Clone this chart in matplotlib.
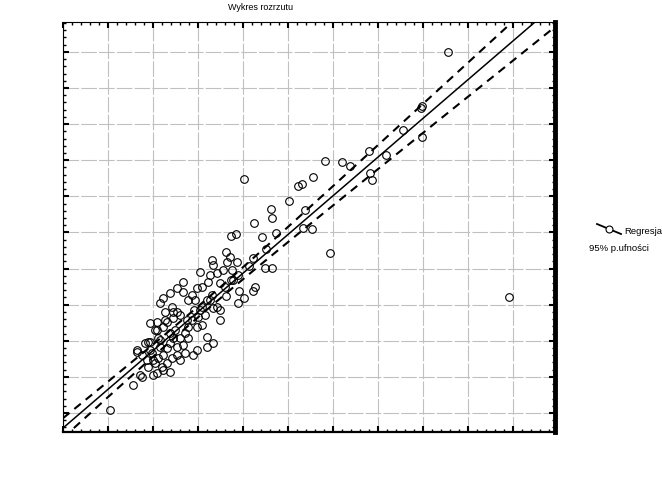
import numpy as np
import matplotlib
matplotlib.use('Agg')
import matplotlib.pyplot as plt
from matplotlib.lines import Line2D
from matplotlib.ticker import MultipleLocator, AutoMinorLocator

plt.rcParams['font.family'] = ['Liberation Sans', 'DejaVu Sans']

# scatter points
x_pts = [8.56, 9.91, 4.02, 7.98, 7.96, 7.98, 7.56, 6.82, 6.87, 7.18,
         6.80, 6.38, 6.20, 5.82, 5.56, 5.31, 5.22, 5.38, 5.02, 5.53,
         5.33, 5.93, 4.62, 4.64, 4.73, 4.42, 4.24, 4.51, 4.64, 4.49,
         4.22, 4.27, 4.22, 3.87, 3.89, 3.91, 3.73, 3.84, 3.62, 3.31,
         3.33, 3.71, 3.64, 3.56, 3.76, 3.42, 3.27, 3.49, 3.22, 3.09,
         2.98, 2.67, 2.87, 2.93, 2.78, 2.53, 2.60, 2.44, 2.31, 2.22,
         2.09, 2.11, 1.93, 1.82, 1.64, 1.76, 1.98, 1.87, 2.04, 1.89,
         1.71, 2.00, 1.56, 3.89, 3.49, 3.33, 3.20, 3.20, 2.98, 2.89,
         2.71, 2.53, 2.31, 2.20, 2.38, 2.22, 2.09, 3.31, 3.20, 3.09,
         3.33, 3.42, 3.49, 3.00, 2.87, 2.78, 2.98, 3.09, 2.71, 2.78,
         2.60, 2.44, 2.38, 2.31, 2.53, 2.67, 2.16, 2.22, 2.42, 2.60,
         2.11, 2.00, 2.67, 2.53, 2.38, 2.22, 2.16, 2.42, 2.27, 2.44,
         2.09, 1.93, 2.04, 2.27, 2.38, 1.64, 1.89, 1.76, 1.04, 4.02,
         3.62, 3.73, 4.13, 2.91, 3.16, 3.04, 3.04, 3.27, 3.60, 3.78,
         2.76, 2.49, 2.16, 1.93]
y_pts = [11.00, 4.21, 7.48, 9.50, 9.45, 8.65, 8.84, 7.65, 7.45, 8.15,
         8.26, 7.84, 7.95, 7.98, 7.54, 7.34, 7.29, 6.62, 6.87, 6.10,
         6.12, 5.43, 6.65, 6.40, 5.99, 5.88, 6.26, 5.54, 5.02, 5.02,
         5.29, 4.49, 4.38, 5.18, 4.82, 4.38, 5.90, 5.96, 5.46, 5.24,
         5.10, 5.32, 5.18, 4.96, 4.96, 4.88, 4.82, 4.60, 4.63, 4.49,
         4.46, 4.35, 4.27, 4.13, 4.13, 3.80, 3.71, 3.63, 3.52, 3.38,
         3.30, 3.08, 2.97, 2.94, 2.75, 2.61, 2.66, 2.47, 2.39, 2.27,
         2.05, 2.05, 1.78, 4.05, 3.58, 2.94, 3.11, 2.83, 2.75, 2.61,
         2.66, 2.61, 2.39, 2.27, 2.14, 2.19, 2.11, 4.27, 4.13, 3.94,
         3.91, 3.94, 3.85, 3.66, 3.58, 3.38, 3.38, 3.44, 3.22, 3.08,
         3.08, 3.08, 2.94, 2.80, 2.83, 2.88, 2.83, 2.61, 2.52, 2.47,
         2.52, 2.47, 4.63, 4.46, 4.32, 4.19, 4.05, 3.94, 3.80, 3.80,
         3.52, 3.49, 3.30, 3.58, 3.22, 2.69, 2.97, 2.00, 1.08, 4.19,
         4.24, 4.68, 5.06, 3.85, 3.71, 4.91, 3.85, 4.13, 4.49, 4.68,
         3.58, 3.30, 3.02, 2.75]

# regression line and 95% band
reg_intercept = 0.584
reg_slope = 1.072
band_center = 3.04
band_h0 = 0.15
band_k = 0.075

xmin, xmax = 0.0, 10.93
ymin, ymax = 0.474, 11.83

fig = plt.figure(figsize=(6.62, 4.83), dpi=100)
ax = fig.add_axes([0.0952, 0.1056, 0.743, 0.849])

xs = np.linspace(xmin, xmax, 200)
yfit = reg_intercept + reg_slope * xs
half = np.sqrt(band_h0**2 + band_k**2 * (xs - band_center)**2)

ax.plot(x_pts, y_pts, linestyle='none', marker='o', markersize=5.5,
        markerfacecolor='none', markeredgecolor='k', markeredgewidth=0.8,
        zorder=3)
ax.plot(xs, yfit, color='k', linewidth=1.1, zorder=4)
ax.plot(xs, yfit + half, color='k', linewidth=1.5, linestyle=(0, (4, 3)), zorder=4)
ax.plot(xs, yfit - half, color='k', linewidth=1.5, linestyle=(0, (4, 3)), zorder=4)

ax.set_xlim(xmin, xmax)
ax.set_ylim(ymin, ymax)
ax.xaxis.set_major_locator(MultipleLocator(1))
ax.yaxis.set_major_locator(MultipleLocator(1))
ax.xaxis.set_minor_locator(AutoMinorLocator(5))
ax.yaxis.set_minor_locator(AutoMinorLocator(5))
ax.grid(True, which='major', color='#c0c0c0', linewidth=0.8,
        linestyle=(0, (14, 2)), zorder=0)
ax.tick_params(which='both', direction='in', top=True, right=True,
               labelbottom=False, labelleft=False, color='k')
ax.tick_params(which='major', length=4, width=1.5)
ax.tick_params(which='minor', length=2, width=1)

for side in ['left', 'top']:
    ax.spines[side].set_linewidth(0.8)
ax.spines['bottom'].set_linewidth(1.6)
ax.spines['right'].set_linewidth(3.5)

fig.text(0.394, 0.993, 'Wykres rozrzutu', ha='center', va='top', fontsize=6.5)

# legend drawn beside the plot
fig.add_artist(Line2D([597 / 662, 621 / 662], [1 - 224 / 483, 1 - 234 / 483],
                      transform=fig.transFigure, color='k', linewidth=1.3))
fig.add_artist(Line2D([609 / 662], [1 - 229 / 483], transform=fig.transFigure,
                      marker='o', markersize=5, markerfacecolor='white',
                      markeredgecolor='k', markeredgewidth=0.8, linestyle='none'))
fig.text(624 / 662, 1 - 231 / 483, 'Regresja', ha='left', va='center', fontsize=6.8)
fig.text(619 / 662, 1 - 248 / 483, '95% p.ufności', ha='center', va='center', fontsize=6.8)

fig.savefig('out.png', dpi=100)
